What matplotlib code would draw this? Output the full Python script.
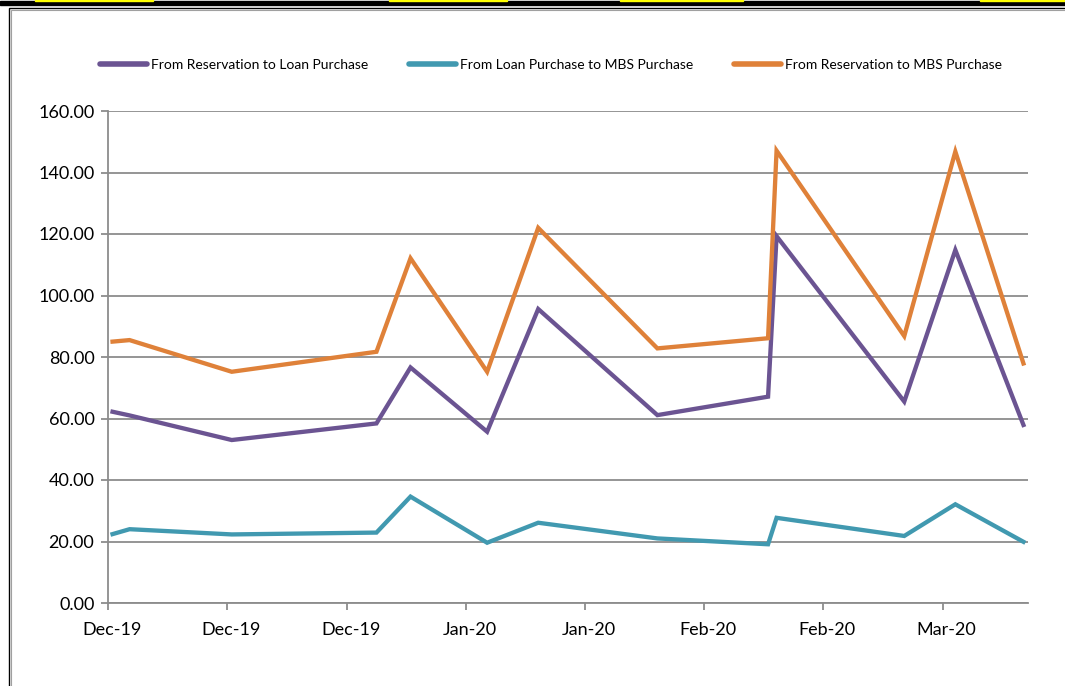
import numpy as np
import pandas as pd
import matplotlib
matplotlib.use("Agg")
import matplotlib.pyplot as plt
import matplotlib.dates as mdates
import matplotlib.transforms as mtransforms
from matplotlib.patches import Rectangle

plt.rcParams["font.family"] = ["Lato", "DejaVu Sans"]

# ---- data ----
dates = pd.to_datetime([
    "2019-12-02", "2019-12-04", "2019-12-16", "2020-01-02", "2020-01-06",
    "2020-01-15", "2020-01-21", "2020-02-04", "2020-02-17", "2020-02-18",
    "2020-03-04", "2020-03-10", "2020-03-18",
])
res_to_loan = [62.2, 61.0, 53.0, 58.4, 76.6, 55.7, 95.6, 61.1, 67.1, 119.3, 65.5, 114.8, 57.9]
loan_to_mbs = [22.4, 24.0, 22.3, 22.9, 34.6, 19.6, 26.1, 21.0, 19.1, 27.7, 21.8, 32.1, 19.9]
res_to_mbs = [85.0, 85.5, 75.2, 81.7, 112.1, 75.2, 122.0, 82.8, 86.1, 147.1, 86.8, 146.8, 77.9]

series = [
    ("From Reservation to Loan Purchase", res_to_loan, "#6B5492"),
    ("From Loan Purchase to MBS Purchase", loan_to_mbs, "#4199B0"),
    ("From Reservation to MBS Purchase", res_to_mbs, "#DF8139"),
]

W, H = 1065, 686
fig = plt.figure(figsize=(W / 100, H / 100), dpi=100)

# page decorations: black bar with yellow dashes, chart border
fig.patches.append(Rectangle((0, 1 - 5 / H), 1, 4 / H, transform=fig.transFigure,
                             color="black", zorder=0))
for x0, x1 in [(35, 153), (389, 507), (620, 743), (980, 1065)]:
    fig.patches.append(Rectangle((x0 / W, 1 - 1.2 / H), (x1 - x0) / W, 1.2 / H,
                                 transform=fig.transFigure, color="#FFFF00", zorder=0))
fig.patches.append(Rectangle((9 / W, -0.01), 1.1, 1 - 8 / H + 0.01,
                             transform=fig.transFigure, fill=False,
                             edgecolor="black", linewidth=1.0, zorder=0))
fig.patches.append(Rectangle((10.5 / W, -0.01), 1.1, 1 - 10 / H + 0.01,
                             transform=fig.transFigure, fill=False,
                             edgecolor="#A0A0A0", linewidth=0.8, zorder=0))

left, right, top, bottom = 108.3, 1027.7, 111, 603
ax = fig.add_axes([left / W, 1 - bottom / H, (right - left) / W, (bottom - top) / H])

half_day = pd.Timedelta(hours=12)
for label, vals, color in series:
    ax.plot(dates + half_day, vals, color=color, linewidth=3.1,
            solid_joinstyle="miter", label=label, zorder=3)

ax.set_ylim(0, 160)
ax.set_yticks(np.arange(0, 161, 20))
ax.yaxis.set_major_formatter(matplotlib.ticker.FormatStrFormatter("%.2f"))

start = dates[0]
ax.set_xlim(start, dates[-1] + pd.Timedelta(days=1))
ticks = pd.date_range(start, dates[-1], freq="14D")
ax.set_xticks(ticks)
ax.xaxis.set_major_formatter(mdates.DateFormatter("%b-%y"))

ax.grid(axis="y", color="#8C8C8C", linewidth=1.3)
ax.set_axisbelow(True)
for s in ["top", "right"]:
    ax.spines[s].set_visible(False)
for s in ["left", "bottom"]:
    ax.spines[s].set_color("#8C8C8C")
    ax.spines[s].set_linewidth(1.3)

ax.tick_params(axis="both", colors="#8C8C8C", labelcolor="black", width=1.3, length=5)
ax.tick_params(axis="y", labelsize=13, pad=5)
ax.tick_params(axis="x", labelsize=13, pad=9)
shift = mtransforms.ScaledTranslation(4 / 100, 0, fig.dpi_scale_trans)
for lbl in ax.get_xticklabels():
    lbl.set_transform(lbl.get_transform() + shift)

leg = fig.legend(loc="center", bbox_to_anchor=(551 / W, 1 - 65 / H), ncol=3,
                 frameon=False, fontsize=10, handlelength=3.4, handletextpad=0.3,
                 columnspacing=2.9)
for line in leg.get_lines():
    line.set_linewidth(4.0)
    line.set_solid_capstyle("round")

fig.savefig("out.png", dpi=100)
